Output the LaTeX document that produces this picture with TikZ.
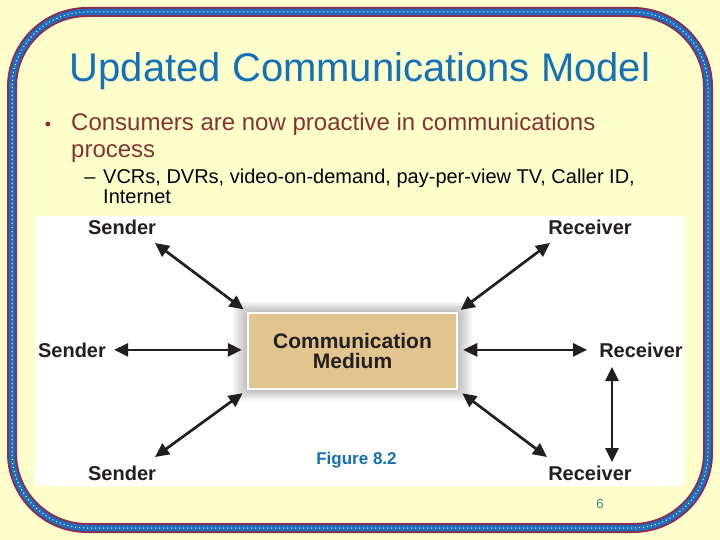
\documentclass[tikz,border=0pt]{standalone}
\usepackage{fontspec}
\setmainfont{Liberation Sans}
\usepackage{xcolor}
\usetikzlibrary{arrows.meta,positioning}

\definecolor{slidebg}{RGB}{255,255,204}
\definecolor{framered}{RGB}{140,45,85}
\definecolor{frameblue}{RGB}{30,110,190}
\definecolor{titleblue}{RGB}{20,112,184}
\definecolor{bulletred}{RGB}{135,50,50}
\definecolor{inkgray}{RGB}{35,31,32}
\definecolor{mediumtan}{RGB}{226,196,142}
\definecolor{pagenum}{RGB}{60,130,140}

\begin{document}
\begin{tikzpicture}[
  x=1pt, y=-1pt,
  lbl/.style={font=\fontsize{20}{24}\selectfont\bfseries, text=inkgray,
    inner sep=0pt, anchor=base},
  medium/.style={fill=mediumtan, draw=white, line width=2.5pt,
    minimum width=209pt, minimum height=76pt, align=center, text=inkgray,
    font=\fontsize{21}{20}\selectfont\bfseries},
  arrow/.style={{Triangle[length=14pt,width=13pt]}-{Triangle[length=14pt,width=13pt]},
    line width=2.7pt, draw=inkgray}
]
\useasboundingbox (0,0) rectangle (720,540);
\fill[slidebg] (0,0) rectangle (720,540);

% slide frame
\draw[framered, line width=10pt, rounded corners=75pt] (12,12) rectangle (708,528);
\draw[frameblue, line width=6pt, rounded corners=75pt] (12,12) rectangle (708,528);
\draw[white, line width=1pt, dash pattern=on 1pt off 3pt, rounded corners=75pt]
  (12,12) rectangle (708,528);

% title and bullets
\node[anchor=base, text=titleblue, font=\fontsize{40}{44}\selectfont] (title)
  at (360,82) {Updated Communications Model};
\node[anchor=base, text=bulletred, font=\fontsize{18}{20}\selectfont] (dot)
  at (48,131) {•};
% multi-line nodes sit on the baseline of their last line
\node[anchor=base west, text=bulletred, align=left, inner sep=0pt,
  font=\fontsize{24}{27}\selectfont] (point)
  at (71,158) {Consumers are now proactive in communications\\process};
\node[anchor=base, font=\fontsize{20}{20}\selectfont] (dash) at (90,184) {–};
\node[anchor=base west, align=left, inner sep=0pt,
  font=\fontsize{20}{20}\selectfont] (subpoint)
  at (103,204) {VCRs, DVRs, video-on-demand, pay-per-view TV, Caller ID,\\Internet};

% figure panel
\fill[white] (35,216) rectangle (684,486);
\foreach \i in {1,...,7}
  \fill[black, opacity=0.035, rounded corners=6pt]
    (247-2*\i,312-1.5*\i) rectangle (458+2*\i,390+1.5*\i);
\node[medium] (med) at (352.5,351) {Communication\\Medium};

% senders and receivers
\node[lbl] (s1) at (122,235) {Sender};
\node[lbl] (s2) at (72,357) {Sender};
\node[lbl] (s3) at (122,480) {Sender};
\node[lbl] (r1) at (590,235) {Receiver};
\node[lbl] (r2) at (641,357) {Receiver};
\node[lbl] (r3) at (590,480) {Receiver};

\coordinate (s1a) at (155,243);
\coordinate (s3a) at (155,457);
\coordinate (r1a) at (550,243);
\coordinate (r3a) at (547,457);
\coordinate (v1) at (612,367);
\coordinate (v2) at (612,462);

\draw[arrow, shorten >=4pt] (s1a) -- (med.north west);
\draw[arrow, shorten <=8pt, shorten >=5pt] (s2.east) -- (s2.east -| med.west);
\draw[arrow, shorten >=5pt] (s3a) -- (med.south west);
\draw[arrow, shorten <=3pt] (med.north east) -- (r1a);
\draw[arrow, shorten <=5pt, shorten >=12pt] (med.east |- r2.west) -- (r2.west);
\draw[arrow, shorten <=5pt] (med.south east) -- (r3a);
\draw[arrow] (v1) -- (v2);

\node[anchor=base, text=titleblue, font=\fontsize{17}{20}\selectfont\bfseries] (fig)
  at (356.5,464) {Figure 8.2};
\node[anchor=base, text=pagenum, font=\fontsize{13}{15}\selectfont] (page)
  at (600,508) {6};
\end{tikzpicture}
\end{document}
